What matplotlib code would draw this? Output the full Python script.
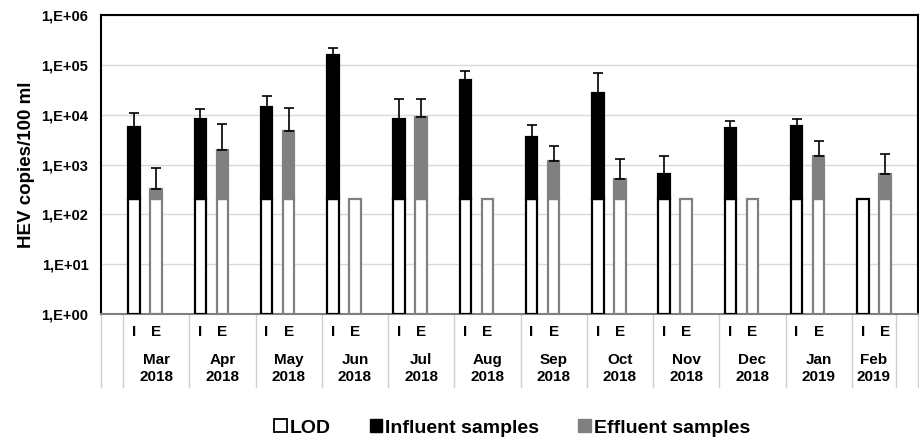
import matplotlib
matplotlib.use("Agg")
import matplotlib.pyplot as plt
from matplotlib.patches import Patch
from matplotlib.transforms import blended_transform_factory
import numpy as np

plt.rcParams['font.family'] = ['Liberation Sans', 'DejaVu Sans']
plt.rcParams['font.weight'] = 'bold'

months = ["Mar", "Apr", "May", "Jun", "Jul", "Aug", "Sep", "Oct", "Nov", "Dec", "Jan", "Feb"]
years = ["2018"] * 10 + ["2019", "2019"]
lod = 200
influent = [5600, 8300, 14500, 160000, 8300, 49000, 3600, 27700, 636, 5500, 6000, None]
influent_top = [11000, 13000, 23700, 220000, 20500, 76000, 6200, 69000, 1480, 7600, 8300, None]
effluent = [327, 1930, 4700, None, 9100, None, 1190, 505, None, None, 1500, 636]
effluent_top = [840, 6500, 13600, None, 20500, None, 2350, 1310, None, None, 2970, 1620]
yticks = [1, 10, 100, 1000, 10000, 100000, 1000000]
ytick_labels = ["1,E+00", "1,E+01", "1,E+02", "1,E+03", "1,E+04", "1,E+05", "1,E+06"]

BLACK = "#000000"
GRAY = "#808080"

fig = plt.figure(figsize=(9.19, 4.40), dpi=100)
ax = fig.add_axes([101/919, 1 - 314/440, 817/919, 299/440])
ax.set_yscale('log')
ax.set_ylim(1, 1e6)
n = len(months)
ax.set_xlim(0, 3 * n + 1)

w = 0.52
lw = 1.6
xi = np.array([1.5 + 3 * m for m in range(n)])
xe = xi + 1

# LOD bars
ax.bar(xi, [lod - 1] * n, bottom=1, width=w, color="white", edgecolor=BLACK, linewidth=lw, zorder=3)
ax.bar(xe, [lod - 1] * n, bottom=1, width=w, color="white", edgecolor=GRAY, linewidth=lw, zorder=3)

for m in range(n):
    if influent[m] is not None:
        ax.bar(xi[m], influent[m] - lod, bottom=lod, width=w, color=BLACK, edgecolor=BLACK,
               linewidth=lw, zorder=4)
        ax.errorbar(xi[m], influent[m], yerr=[[0], [influent_top[m] - influent[m]]], fmt='none',
                    ecolor=BLACK, elinewidth=1.2, capsize=3.5, capthick=1.2, zorder=5)
    if effluent[m] is not None:
        ax.bar(xe[m], effluent[m] - lod, bottom=lod, width=w, color=GRAY, edgecolor=GRAY,
               linewidth=lw, zorder=4)
        ax.errorbar(xe[m], effluent[m], yerr=[[0], [effluent_top[m] - effluent[m]]], fmt='none',
                    ecolor=BLACK, elinewidth=1.2, capsize=3.5, capthick=1.2, zorder=5)

ax.set_yticks(yticks)
ax.set_yticklabels(ytick_labels, fontsize=10.5, fontweight='bold')
ax.yaxis.set_minor_locator(matplotlib.ticker.NullLocator())
ax.tick_params(axis='y', length=0, pad=9)
ax.set_xticks([])
ax.grid(axis='y', color="#d9d9d9", linewidth=1, zorder=0)
ax.set_axisbelow(True)
ax.set_ylabel("HEV copies/100 ml", fontsize=13.5, fontweight='bold', labelpad=4.5)

for s in ['left', 'top', 'right']:
    ax.spines[s].set_color(BLACK)
    ax.spines[s].set_linewidth(1.5)
ax.spines['bottom'].set_color(GRAY)
ax.spines['bottom'].set_linewidth(1.5)

trans = blended_transform_factory(ax.transData, ax.transAxes)
bounds = [0] + [1 + 3 * m for m in range(n)] + [3 * n, 3 * n + 1]
for b in bounds:
    ax.plot([b, b], [0, -0.245], transform=trans, color="#d0d0d0", linewidth=1, clip_on=False)

fs = 11
for m in range(n):
    ax.text(xi[m], -0.06, "I", transform=trans, ha='center', va='center', fontsize=fs, fontweight='bold')
    ax.text(xe[m], -0.06, "E", transform=trans, ha='center', va='center', fontsize=fs, fontweight='bold')
    gc = 2.5 + 3 * m if m < n - 1 else 3 * m + 2.0
    ax.text(gc, -0.154, months[m], transform=trans, ha='center', va='center', fontsize=fs, fontweight='bold')
    ax.text(gc, -0.211, years[m], transform=trans, ha='center', va='center', fontsize=fs, fontweight='bold')

handles = [Patch(facecolor="white", edgecolor=BLACK, linewidth=1.3, label="LOD"),
           Patch(facecolor=BLACK, edgecolor=BLACK, label="Influent samples"),
           Patch(facecolor=GRAY, edgecolor=GRAY, label="Effluent samples")]
fig.legend(handles=handles, loc='center', bbox_to_anchor=(512/919, 1 - 428/440), ncol=3, frameon=False,
           prop={'weight': 'bold', 'size': 14}, handlelength=0.65, handleheight=0.65, handletextpad=0.15,
           columnspacing=2.0)

fig.savefig("out.png", dpi=100)
